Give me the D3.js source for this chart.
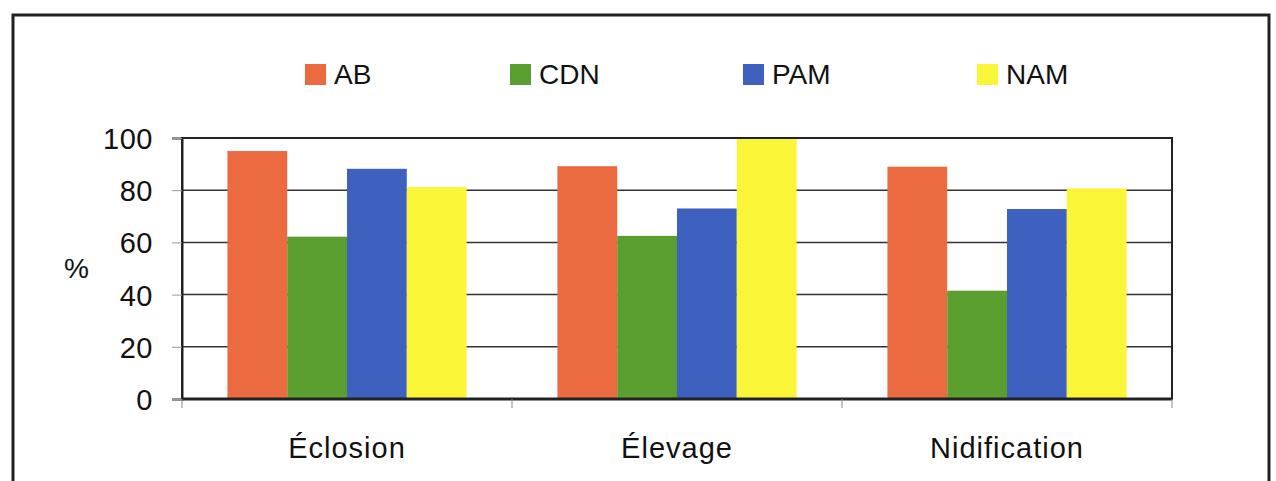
<!DOCTYPE html>
<html><head><meta charset="utf-8">
<script src="https://cdn.jsdelivr.net/npm/d3@7"></script>
<style>body{margin:0;background:#fff}svg{display:block}text{font-family:"Liberation Sans",Arial,sans-serif;fill:#111}</style>
</head><body><div id="chart"></div>
<script>
const categories = ["Éclosion", "Élevage", "Nidification"];
const seriesNames = ["AB", "CDN", "PAM", "NAM"];
const AB = [95, 89.2, 89];
const CDN = [62.2, 62.5, 41.5];
const PAM = [88.2, 73, 72.8];
const NAM = [81.2, 100, 80.7];
const yTicks = [0, 20, 40, 60, 80, 100];
const colors = ["#eb6a3f", "#5b9e30", "#3e60bf", "#fbf538"];
const seriesValues = [AB, CDN, PAM, NAM];

(function(){
const W = 1276, H = 481;
const svg = d3.select("#chart").append("svg").attr("width", W).attr("height", H);
// outer frame
svg.append("path").attr("d", `M13,${H} V15 H1269 V${H}`).attr("fill", "none").attr("stroke", "#222").attr("stroke-width", 3);

const pL = 182, pR = 1172, pT = 138, pB = 399;
const x0 = d3.scaleBand().domain(categories).range([pL, pR]).paddingInner(0).paddingOuter(0);
const x1 = d3.scaleBand().domain(seriesNames).range([0, x0.bandwidth()]).paddingOuter(0.76).paddingInner(0);
const y = d3.scaleLinear().domain([0, 100]).range([pB, pT]);

// gridlines
svg.append("g").selectAll("line").data(yTicks.filter(d => d > 0 && d < 100)).join("line")
  .attr("x1", pL).attr("x2", pR).attr("y1", d => y(d)).attr("y2", d => y(d))
  .attr("stroke", "#333").attr("stroke-width", 1.5);

// bars
const g = svg.append("g");
categories.forEach((c, i) => {
  seriesNames.forEach((s, j) => {
    g.append("rect").attr("x", x0(c) + x1(s)).attr("width", x1.bandwidth())
      .attr("y", y(seriesValues[j][i])).attr("height", y(0) - y(seriesValues[j][i]))
      .attr("fill", colors[j]);
  });
});

// plot frame
svg.append("rect").attr("x", pL).attr("y", pT).attr("width", pR - pL).attr("height", pB - pT)
  .attr("fill", "none").attr("stroke", "#222").attr("stroke-width", 2);
svg.append("line").attr("x1", pL).attr("x2", pR).attr("y1", pB).attr("y2", pB).attr("stroke", "#222").attr("stroke-width", 3);

// y axis
const yAxis = d3.axisLeft(y).tickValues(yTicks).tickSize(10).tickPadding(19);
const ya = svg.append("g").attr("transform", `translate(${pL},0)`).call(yAxis);
ya.select(".domain").attr("stroke", "#222").attr("stroke-width", 2);
ya.selectAll(".tick line").attr("stroke", "#999");
ya.selectAll(".tick text").attr("font-size", 29).attr("dy", "0.36em").attr("letter-spacing", 0.5)
  .style("font-family", '"Liberation Sans", Arial, sans-serif').attr("fill", "#111");

// x axis boundary ticks
const bounds = [pL].concat(categories.map(c => x0(c) + x0.bandwidth()));
svg.append("g").selectAll("line").data(bounds).join("line")
  .attr("x1", d => d).attr("x2", d => d).attr("y1", pB).attr("y2", pB + 9)
  .attr("stroke", "#888").attr("stroke-width", 1);
svg.append("g").selectAll("text").data(categories).join("text")
  .attr("x", d => x0(d) + x0.bandwidth() / 2).attr("y", 457.5)
  .attr("text-anchor", "middle").attr("font-size", 29).attr("letter-spacing", 1).text(d => d);

// y title
svg.append("text").attr("x", 76.5).attr("y", 278).attr("text-anchor", "middle").attr("font-size", 28).text("%");

// legend
const legX = [305, 510, 743, 977];
const lg = svg.append("g").selectAll("g").data(seriesNames).join("g")
  .attr("transform", (d, i) => `translate(${legX[i]},64)`);
lg.append("rect").attr("width", 21).attr("height", 21).attr("fill", (d, i) => colors[i]);
lg.append("text").attr("x", 29).attr("y", 19.5).attr("font-size", 28).text(d => d);
})();
</script></body></html>
